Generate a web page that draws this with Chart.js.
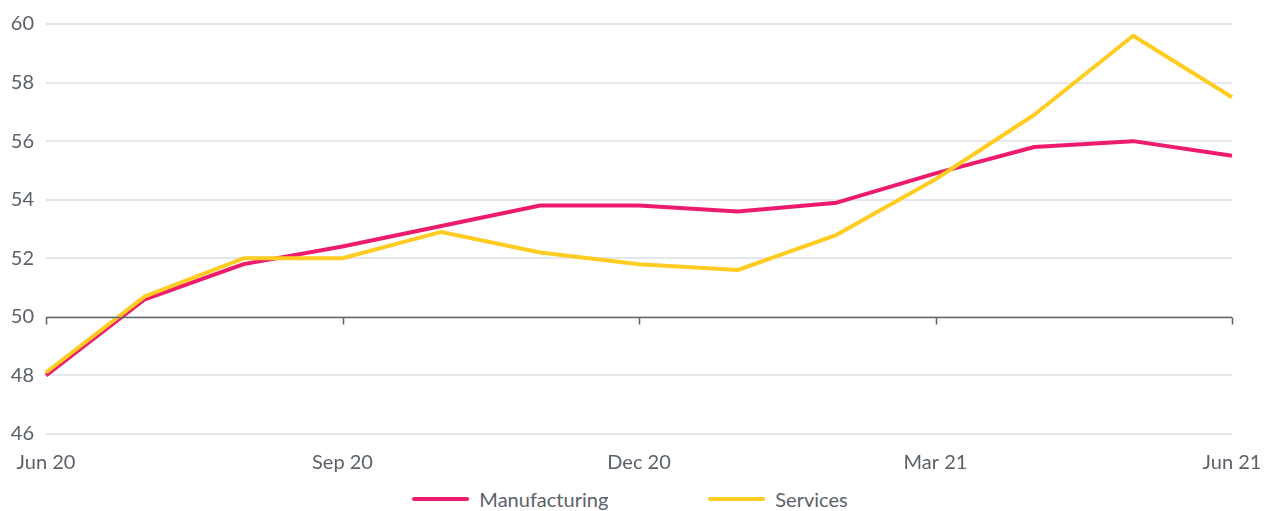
<!DOCTYPE html>
<html>
<head>
<meta charset="utf-8">
<script src="https://cdn.jsdelivr.net/npm/chart.js@4/dist/chart.umd.min.js"></script>
<style>
  html, body { margin: 0; padding: 0; background: #fff; overflow: hidden; }
  #wrap { position: relative; width: 1264px; height: 480px; }
  #legend {
    display: flex; justify-content: center; gap: 100px;
    font-family: Lato, "Open Sans", sans-serif; font-size: 20px; color: #5b6168;
    margin-top: 7px; margin-left: -4px;
  }
  #legend .item { display: flex; align-items: center; }
  #legend .swatch { width: 57px; height: 4px; border-radius: 2px; margin-right: 10px; }
</style>
</head>
<body>
<div id="wrap"><canvas id="pmiChart"></canvas></div>
<div id="legend"></div>
<script>
var months = ["Jun 20", "Jul 20", "Aug 20", "Sep 20", "Oct 20", "Nov 20", "Dec 20",
              "Jan 21", "Feb 21", "Mar 21", "Apr 21", "May 21", "Jun 21"];
var manufacturing = [48.0, 50.6, 51.8, 52.4, 53.1, 53.8, 53.8, 53.6, 53.9, 54.9, 55.8, 56.0, 55.5];
var services = [48.1, 50.7, 52.0, 52.0, 52.9, 52.2, 51.8, 51.6, 52.8, 54.7, 56.9, 59.6, 57.5];
var yTicks = [46, 48, 50, 52, 54, 56, 58, 60];
var baseline = 50;

var textColor = "#5b6168";
var fontFamily = "Lato, 'Open Sans', sans-serif";

// dark axis line at 50 with quarterly tick marks hanging below it
var baselinePlugin = {
  id: "baseline",
  afterDatasetsDraw: function (chart) {
    var ctx = chart.ctx;
    var x = chart.scales.x, y = chart.scales.y;
    var py = Math.round(y.getPixelForValue(baseline)) + 0.5;
    ctx.save();
    ctx.strokeStyle = "#5f656b";
    ctx.lineWidth = 1.5;
    ctx.beginPath();
    ctx.moveTo(x.left, py);
    ctx.lineTo(x.right, py);
    for (var i = 0; i < months.length; i += 3) {
      var px = Math.round(x.getPixelForValue(i)) + 0.5;
      ctx.moveTo(px, py);
      ctx.lineTo(px, py + 7);
    }
    ctx.stroke();
    ctx.restore();
  }
};

var chart = new Chart(document.getElementById("pmiChart").getContext("2d"), {
  type: "line",
  data: {
    labels: months,
    datasets: [{
      label: "Manufacturing",
      data: manufacturing,
      borderColor: "#ec1b6e",
      backgroundColor: "#ec1b6e",
      borderWidth: 4,
      pointRadius: 0,
      tension: 0,
      borderJoinStyle: "round",
      order: 2
    }, {
      label: "Services",
      data: services,
      borderColor: "#ffcc22",
      backgroundColor: "#ffcc22",
      borderWidth: 4,
      pointRadius: 0,
      tension: 0,
      borderJoinStyle: "round",
      order: 1
    }]
  },
  options: {
    responsive: true,
    maintainAspectRatio: false,
    animation: false,
    layout: { padding: { left: 0, right: 32, top: 22, bottom: 0 } },
    scales: {
      x: {
        offset: false,
        grid: { display: false, drawTicks: false },
        border: { display: false },
        ticks: {
          autoSkip: false,
          maxRotation: 0,
          padding: 17,
          color: textColor,
          font: { family: fontFamily, size: 20 },
          callback: function (value, index) {
            return index % 3 === 0 ? months[index] : "";
          }
        },
        afterFit: function (scale) {
          scale.height = 46;
          // end labels may hang past the plot edges
          scale.paddingLeft = 0;
          scale.paddingRight = 0;
        }
      },
      y: {
        min: 46,
        max: 60,
        afterBuildTicks: function (scale) {
          scale.ticks = yTicks.map(function (v) { return { value: v }; });
        },
        grid: { color: "#e4e7eb", lineWidth: 2, drawTicks: false },
        border: { display: false },
        ticks: {
          padding: 12,
          color: textColor,
          font: { family: fontFamily, size: 20 }
        },
        afterFit: function (scale) { scale.width = 46; }
      }
    },
    plugins: {
      legend: { display: false },
      tooltip: { enabled: false }
    }
  },
  plugins: [baselinePlugin]
});

// legend under the chart, built from the datasets
var legendEl = document.getElementById("legend");
chart.data.datasets.forEach(function (ds) {
  var item = document.createElement("div");
  item.className = "item";
  var sw = document.createElement("span");
  sw.className = "swatch";
  sw.style.background = ds.borderColor;
  var txt = document.createElement("span");
  txt.textContent = ds.label;
  item.appendChild(sw);
  item.appendChild(txt);
  legendEl.appendChild(item);
});
</script>
</body>
</html>
